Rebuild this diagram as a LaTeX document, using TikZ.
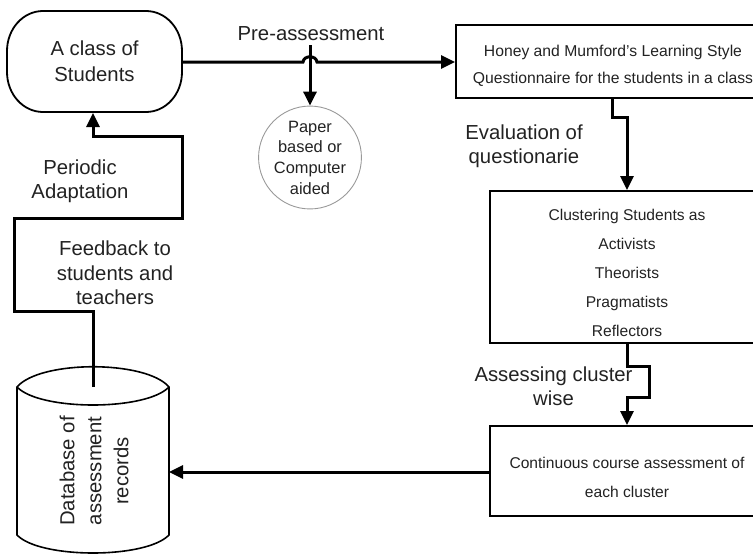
\documentclass[tikz,border=0pt]{standalone}
\usepackage{fontspec}
\setmainfont{Liberation Sans}
\usetikzlibrary{arrows.meta}

\definecolor{ink}{HTML}{222222}

\tikzset{
  flow/.style={line width=3pt, -{Triangle[length=14pt,width=13pt]}},
  boxframe/.style={draw, line width=2pt, rectangle, inner sep=0pt},
  biglabel/.style={align=center, text=ink, font=\fontsize{20.3}{24.5}\selectfont, inner sep=0pt},
  boxtext/.style={align=center, text=ink, inner sep=0pt},
}

\begin{document}
\begin{tikzpicture}[x=1pt, y=-1pt]
  \useasboundingbox (0,0) rectangle (753,554);
  \clip (0,0) rectangle (753,554);

  % start / end terminator: rounded outline with wide elliptical corners
  \draw[line width=1.8pt]
    (43,11) -- (146,11) .. controls (166,11) and (182,29) .. (182,51)
    -- (182,72) .. controls (182,94) and (166,112) .. (146,112)
    -- (43,112) .. controls (23,112) and (7,94) .. (7,72)
    -- (7,51) .. controls (7,29) and (23,11) .. (43,11) -- cycle;
  \node[minimum width=175pt, minimum height=101pt, inner sep=0pt, align=center, text=ink,
        font=\fontsize{20.3}{26}\selectfont] (cls) at (94.5,61.5) {A class of\\Students};

  % process boxes (their right edges run off the page)
  \node[boxframe, minimum width=314pt, minimum height=73pt] (hm) at (613,61.5) {};
  \node[boxtext, font=\fontsize{15.7}{27.5}\selectfont] (hmtext) at (613,66)
       {Honey and Mumford's Learning Style\\Questionnaire for the students in a class};

  \node[boxframe, minimum width=274pt, minimum height=152pt] (cl) at (627,267) {};
  \node[boxtext, font=\fontsize{15.6}{29}\selectfont] (cltext) at (627,273)
       {Clustering Students as\\Activists\\Theorists\\Pragmatists\\Reflectors};

  \node[boxframe, minimum width=274pt, minimum height=90pt] (cc) at (627,471) {};
  \node[boxtext, font=\fontsize{15.6}{29}\selectfont] (cctext) at (627,477.5)
       {Continuous course assessment of\\each cluster};

  % mode of the pre-assessment
  \node[circle, draw=black!40, line width=0.9pt, minimum size=102pt, inner sep=0pt,
        align=center, text=ink, font=\fontsize{16.4}{20.7}\selectfont] (pc) at (310,157.5)
       {Paper\\based or\\Computer\\aided};

  % database cylinder
  \draw[line width=1.6pt, fill=white]
    (17,387) -- (17,535) .. controls (40,559) and (146,559) .. (169,535)
    -- (169,387) .. controls (146,360) and (40,360) .. (17,387) -- cycle;
  \draw[line width=1.6pt] (17,387) .. controls (40,411) and (146,411) .. (169,387);
  \coordinate (dbtop) at (93,387);
  \coordinate (dbright) at (169,472);
  \node[rotate=90, align=center, text=ink, inner sep=0pt,
        font=\fontsize{20.3}{27}\selectfont] (dbtext) at (94,471)
       {Database of\\assessment\\records};

  % connectors
  \coordinate (hop1) at (303,62);
  \coordinate (hop2) at (317,62);
  \draw[flow] (cls.east |- hop1) -- (hop1) .. controls (304,55) and (316,55) .. (hop2)
        -- (hm.west |- hop1);
  \coordinate (pa) at (310,45);
  \draw[flow] (pa) -- (pc.north);

  \draw[flow] (612,98) -- (612,117) -- (627,117) -- (cl.north);
  \draw[flow] (cl.south) -- (627,366) -- (649,366) -- (649,397) -- (627,397) -- (cc.north);
  \draw[flow] (cc.west |- dbright) -- (dbright);
  \draw[flow] (dbtop) -- (93,311) -- (14,311) -- (14,218) -- (182,218) -- (182,136)
        -- (93,136) -- (93,113);

  % connector labels
  \node[biglabel] (lpre) at (311,34) {Pre-assessment};
  \node[biglabel] (leval) at (524,146) {Evaluation of\\questionarie};
  \node[biglabel] (lassess) at (553.5,386) {Assessing cluster\\wise};
  \node[biglabel] (lperiod) at (80,181) {Periodic\\Adaptation};
  \node[biglabel] (lfeed) at (115,273) {Feedback to\\students and\\teachers};
\end{tikzpicture}
\end{document}
